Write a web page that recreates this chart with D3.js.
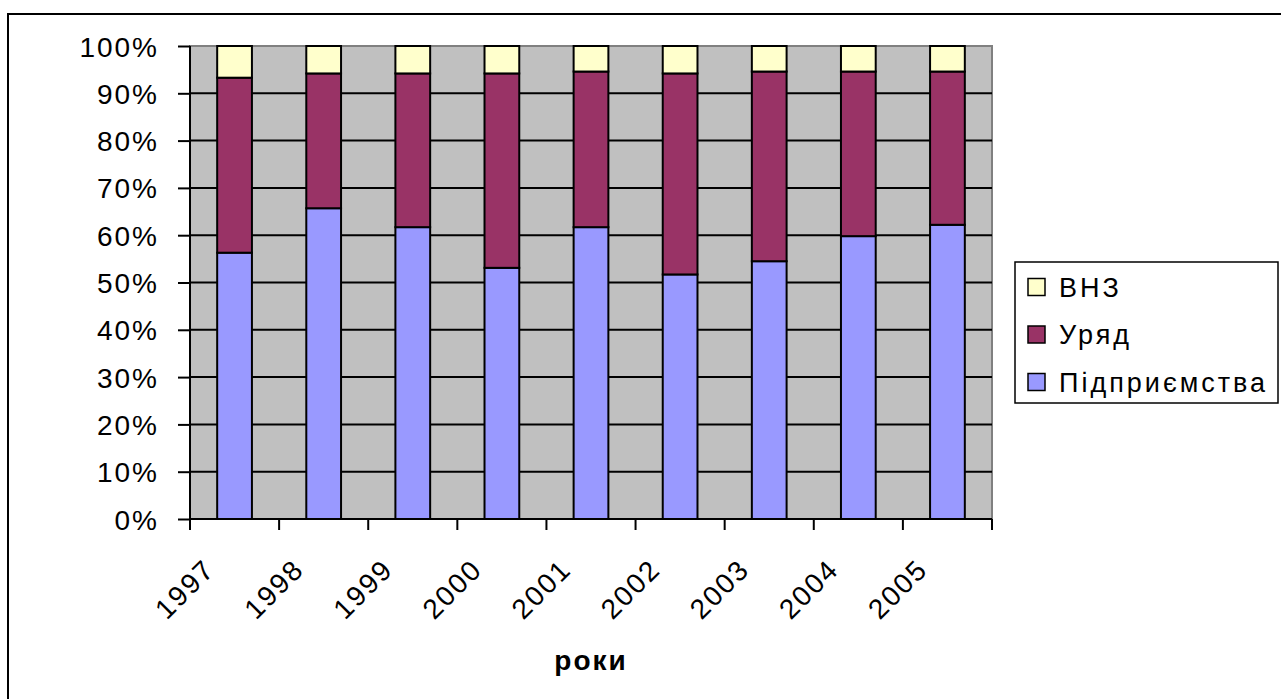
<!DOCTYPE html>
<html>
<meta charset="utf-8">
<head>
<title>Структура фінансування</title>
<style>
body { margin: 0; background: #fff; }
svg { display: block; }
.axis text {
  font-family: "Liberation Sans", Arial, sans-serif;
  font-size: 28px;
  letter-spacing: 2px;
  fill: #000;
}
.legend text {
  font-family: "Liberation Sans", Arial, sans-serif;
  font-size: 27px;
  letter-spacing: 3px;
}
.title {
  font-family: "Liberation Sans", Arial, sans-serif;
  font-size: 28px;
  font-weight: bold;
  letter-spacing: 2px;
}
</style>
</head>
<body>
<script src="https://d3js.org/d3.v7.min.js"></script>
<script>

// data (percent of total)
var years = ["1997", "1998", "1999", "2000", "2001", "2002", "2003", "2004", "2005"];
var pidpr = [56.3, 65.7, 61.7, 53.1, 61.7, 51.7, 54.5, 59.8, 62.2];
var uryad = [37.0, 28.5, 32.5, 41.1, 32.9, 42.5, 40.1, 34.8, 32.4];
var vnz   = [6.7, 5.8, 5.8, 5.8, 5.4, 5.8, 5.4, 5.4, 5.4];
var yTicks = [0, 10, 20, 30, 40, 50, 60, 70, 80, 90, 100];

var keys = ["Підприємства", "Уряд", "ВНЗ"];
var colors = {"Підприємства": "#9999ff", "Уряд": "#993366", "ВНЗ": "#ffffcc"};

var rows = years.map(function(y, i) {
  return {year: y, "Підприємства": pidpr[i], "Уряд": uryad[i], "ВНЗ": vnz[i]};
});

var W = 1281, H = 699;
var plot = {left: 190, right: 992, top: 46, bottom: 519};

var svg = d3.select("body").append("svg")
    .attr("width", W)
    .attr("height", H);

// outer chart frame (runs off the right and bottom edge)
svg.append("rect")
    .attr("x", 8).attr("y", 14)
    .attr("width", W + 20).attr("height", H + 20)
    .style("fill", "#fff")
    .style("stroke", "#000")
    .style("stroke-width", 2);

var x = d3.scaleBand()
    .domain(years)
    .range([plot.left, plot.right])
    .padding(0);

var y = d3.scaleLinear()
    .domain([0, 100])
    .range([plot.bottom, plot.top]);

// plot area background
svg.append("rect")
    .attr("x", plot.left).attr("y", plot.top)
    .attr("width", plot.right - plot.left)
    .attr("height", plot.bottom - plot.top)
    .style("fill", "#c0c0c0")
    .style("stroke", "#808080")
    .style("stroke-width", 2);

// gridlines
svg.append("g")
  .selectAll("line")
  .data(yTicks.filter(function(d) { return d > 0 && d < 100; }))
  .enter().append("line")
    .attr("x1", plot.left).attr("x2", plot.right)
    .attr("y1", d => y(d)).attr("y2", d => y(d))
    .style("stroke", "#000")
    .style("stroke-width", 2);

// stacked bars
var stack = d3.stack().keys(keys);
var series = stack(rows);
var barW = x.bandwidth() * 0.39;

svg.append("g")
  .selectAll("g")
  .data(series).enter()
  .append("g")
    .style("fill", d => colors[d.key])
  .selectAll("rect")
  .data(d => d).enter()
  .append("rect")
    .attr("x", d => x(d.data.year) + (x.bandwidth() - barW) / 2)
    .attr("y", d => y(d[1]))
    .attr("width", barW)
    .attr("height", d => y(d[0]) - y(d[1]))
    .style("stroke", "#000")
    .style("stroke-width", 2);

// y axis
var yAxis = svg.append("g")
    .attr("class", "axis")
    .attr("transform", "translate(" + plot.left + ",0)")
    .call(d3.axisLeft(y).tickValues(yTicks).tickSize(12).tickPadding(19)
      .tickFormat(d => d + "%"));
yAxis.select(".domain").attr("d", "M0," + plot.top + "V" + plot.bottom);
yAxis.selectAll("line, path").style("stroke", "#000").style("stroke-width", 2);
yAxis.selectAll("text").attr("dy", "0.36em");

// x axis: ticks on category boundaries
var xAxis = svg.append("g")
    .attr("class", "axis")
    .attr("transform", "translate(0," + plot.bottom + ")");
xAxis.append("line")
    .attr("x1", plot.left).attr("x2", plot.right)
    .style("stroke", "#000").style("stroke-width", 2);
xAxis.selectAll(".tk")
  .data(years.concat(["end"])).enter()
  .append("line")
    .attr("class", "tk")
    .attr("x1", (d, i) => plot.left + i * x.step())
    .attr("x2", (d, i) => plot.left + i * x.step())
    .attr("y1", 0).attr("y2", 11)
    .style("stroke", "#000").style("stroke-width", 2);
xAxis.selectAll("text")
  .data(years).enter()
  .append("text")
    .attr("text-anchor", "end")
    .attr("transform", d => "translate(" + (x(d) + x.bandwidth() / 2 - 18) + ",52) rotate(-45)")
    .text(d => d);

// axis title
svg.append("text")
    .attr("class", "title")
    .attr("x", (plot.left + plot.right) / 2)
    .attr("y", 670)
    .attr("text-anchor", "middle")
    .text("роки");

// legend, top entry first
var legend = svg.append("g").attr("class", "legend");
legend.append("rect")
    .attr("x", 1015).attr("y", 262)
    .attr("width", 263).attr("height", 141)
    .style("fill", "#fff")
    .style("stroke", "#000")
    .style("stroke-width", 1.5);

var items = legend.selectAll(".item")
  .data(keys.slice().reverse()).enter()
  .append("g")
    .attr("class", "item")
    .attr("transform", (d, i) => "translate(1028," + (287 + i * 47.5) + ")");
items.append("rect")
    .attr("x", 0).attr("y", -8.5)
    .attr("width", 17).attr("height", 17)
    .style("fill", d => colors[d])
    .style("stroke", "#000")
    .style("stroke-width", 1.5);
items.append("text")
    .attr("x", 31)
    .attr("dy", "0.36em")
    .text(d => d);

</script>
</body>
</html>
